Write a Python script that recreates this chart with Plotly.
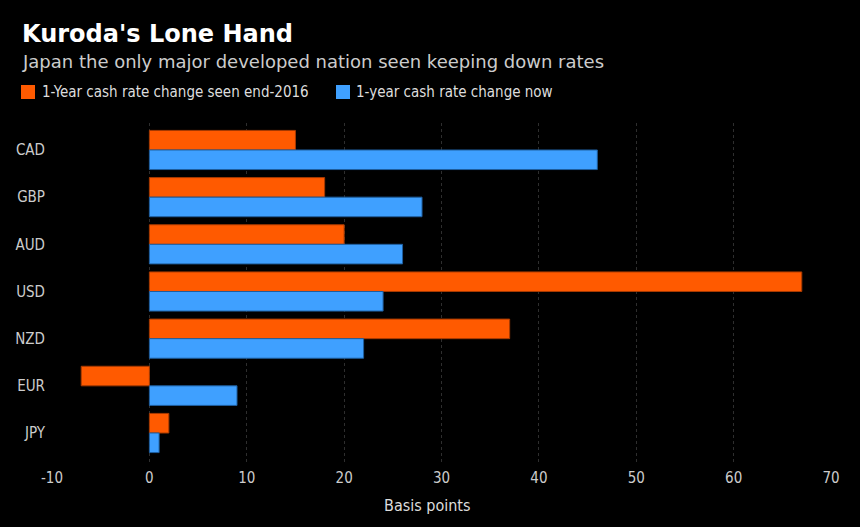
import plotly.graph_objects as go

categories = ["CAD", "GBP", "AUD", "USD", "NZD", "EUR", "JPY"]
seen_end_2016 = [15, 18, 20, 67, 37, -7, 2]
change_now = [46, 28, 26, 24, 22, 9, 1]
x_ticks = [-10, 0, 10, 20, 30, 40, 50, 60, 70]
x_tick_labels = ["-10", "0", "10", "20", "30", "40", "50", "60", "70"]

series_names = ["1-Year cash rate change seen end-2016", "1-year cash rate change now"]
ORANGE = "#FF5A00"
BLUE = "#3FA0FF"
COND = "Liberation Sans Narrow, DejaVu Sans Condensed, sans-serif"

fig = go.Figure()
fig.add_trace(go.Bar(
    y=categories, x=seen_end_2016, orientation="h", name=series_names[0],
    marker=dict(color=ORANGE, line=dict(color="#A63A00", width=1)),
))
fig.add_trace(go.Bar(
    y=categories, x=change_now, orientation="h", name=series_names[1],
    marker=dict(color=BLUE, line=dict(color="#1F5E9E", width=1)),
))

W, H = 860, 527
ml, mr, mt, mb = 52, 29, 123, 64
PW, PH = W - ml - mr, H - mt - mb


def px_x(x):
    return (x - ml) / PW


def px_y(y):
    return (H - mb - y) / PH


legend_items = [
    (series_names[0], ORANGE, 21, 40),
    (series_names[1], BLUE, 336, 354),
]

shapes = []
annotations = []
for name, color, sx, tx in legend_items:
    shapes.append(dict(type="rect", xref="paper", yref="paper",
                       x0=px_x(sx), x1=px_x(sx + 14), y0=px_y(99), y1=px_y(85),
                       fillcolor=color, line=dict(width=0)))
    annotations.append(dict(text=name, xref="paper", yref="paper",
                            x=px_x(tx), y=px_y(92), xanchor="left", yanchor="middle",
                            showarrow=False,
                            font=dict(family=COND, size=15, color="#DDDDDD")))

annotations += [
    dict(text="<b>Kuroda's Lone Hand</b>", xref="paper", yref="paper",
         x=px_x(20), y=px_y(18), xanchor="left", yanchor="top", showarrow=False,
         font=dict(family="DejaVu Sans, sans-serif", size=24, color="#FFFFFF")),
    dict(text="Japan the only major developed nation seen keeping down rates",
         xref="paper", yref="paper", x=px_x(20), y=px_y(49),
         xanchor="left", yanchor="top", showarrow=False,
         font=dict(family="DejaVu Sans, sans-serif", size=18, color="#CCCCCC")),
    dict(text="Basis points", xref="paper", yref="paper",
         x=px_x(427), y=px_y(505), xanchor="center", yanchor="middle",
         showarrow=False, font=dict(family=COND, size=16, color="#DDDDDD")),
]

fig.update_layout(
    width=W, height=H,
    paper_bgcolor="#000000", plot_bgcolor="#000000",
    margin=dict(l=ml, r=mr, t=mt, b=mb, autoexpand=False),
    barmode="group", bargap=0.17, bargroupgap=0,
    showlegend=False,
    xaxis=dict(
        range=[-10, 70], tickvals=x_ticks, ticktext=x_tick_labels, showgrid=True,
        gridcolor="#2E2E2E", griddash="dot", gridwidth=1,
        zeroline=False, showline=False, ticks="",
        ticklabelstandoff=4,
        tickfont=dict(family=COND, size=15, color="#CCCCCC"),
        fixedrange=True,
    ),
    yaxis=dict(
        categoryorder="array", categoryarray=categories,
        range=[6.636, -0.572], showgrid=False, zeroline=False, ticks="",
        ticklabelstandoff=6,
        tickfont=dict(family=COND, size=15, color="#CCCCCC"),
        fixedrange=True,
    ),
    shapes=shapes,
    annotations=annotations,
)

fig.write_html("out.html", config={"displayModeBar": False},
               post_script="document.body.style.margin='0';document.body.style.background='#000';")
